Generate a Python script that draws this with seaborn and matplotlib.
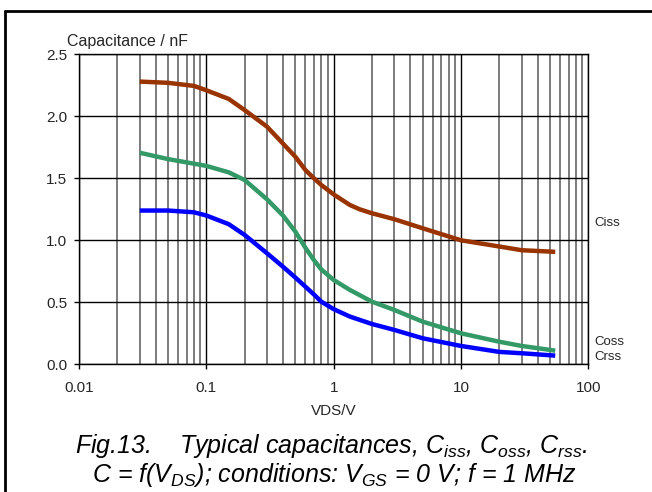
import numpy as np
import pandas as pd
import matplotlib
matplotlib.use("Agg")
import matplotlib.pyplot as plt
import matplotlib.ticker as mticker
import matplotlib.transforms as mtransforms
from matplotlib.lines import Line2D
import seaborn as sns

# ---- data ----
ciss_v = [0.03, 0.05, 0.08, 0.1, 0.15, 0.2, 0.3, 0.4, 0.5, 0.6, 0.7, 0.8, 1.0, 1.34, 1.6, 2, 3, 5, 10, 20, 30, 55]
ciss_c = [2.28, 2.27, 2.245, 2.21, 2.14, 2.05, 1.916, 1.78, 1.674, 1.567, 1.50, 1.446, 1.37, 1.285, 1.25, 1.218, 1.17, 1.097, 1.0, 0.95, 0.92, 0.907]

coss_v = [0.03, 0.05, 0.1, 0.15, 0.2, 0.3, 0.4, 0.5, 0.6, 0.7, 0.8, 1.0, 1.34, 2, 3, 5, 10, 20, 30, 55]
coss_c = [1.706, 1.655, 1.60, 1.548, 1.486, 1.33, 1.20, 1.07, 0.94, 0.84, 0.765, 0.68, 0.60, 0.505, 0.438, 0.344, 0.25, 0.182, 0.148, 0.11]

crss_v = [0.03, 0.05, 0.08, 0.1, 0.15, 0.2, 0.3, 0.4, 0.5, 0.6, 0.7, 0.8, 1.0, 1.34, 2, 3, 5, 10, 20, 30, 55]
crss_c = [1.24, 1.24, 1.226, 1.20, 1.13, 1.043, 0.895, 0.787, 0.70, 0.626, 0.563, 0.505, 0.445, 0.385, 0.325, 0.277, 0.21, 0.148, 0.10, 0.089, 0.07]

series_names = ["Ciss", "Coss", "Crss"]
series_colors = ["#993300", "#339966", "#0000FF"]
label_y = [1.14, 0.182, 0.056]

x_ticks = [0.01, 0.1, 1, 10, 100]
x_tick_labels = ["0.01", "0.1", "1", "10", "100"]
y_ticks = [0.0, 0.5, 1.0, 1.5, 2.0, 2.5]
y_tick_labels = ["0.0", "0.5", "1.0", "1.5", "2.0", "2.5"]

df = pd.concat([
    pd.DataFrame({"VDS": ciss_v, "C": ciss_c, "series": "Ciss"}),
    pd.DataFrame({"VDS": coss_v, "C": coss_c, "series": "Coss"}),
    pd.DataFrame({"VDS": crss_v, "C": crss_c, "series": "Crss"}),
], ignore_index=True)

sns.set_style("white")
plt.rcParams["font.family"] = ["Liberation Sans", "DejaVu Sans"]
plt.rcParams["mathtext.fontset"] = "custom"
plt.rcParams["mathtext.rm"] = "Liberation Sans:italic"
plt.rcParams["mathtext.it"] = "Liberation Sans:italic"
plt.rcParams["mathtext.default"] = "it"

fig = plt.figure(figsize=(6.52, 4.92), dpi=100)
ax = fig.add_axes([79 / 652, 1 - 364.3 / 492, (588.3 - 79) / 652, (364.3 - 54.3) / 492])

sns.lineplot(data=df, x="VDS", y="C", hue="series", hue_order=series_names,
             palette=series_colors, estimator=None, sort=False, linewidth=3.2,
             legend=False, ax=ax, zorder=5)
for ln in ax.get_lines():
    ln.set_solid_joinstyle("round")
    ln.set_solid_capstyle("butt")

ax.set_xscale("log")
ax.set_xlim(0.01, 100)
ax.set_ylim(0, 2.5)
ax.xaxis.set_major_locator(mticker.FixedLocator(x_ticks))
ax.xaxis.set_major_formatter(mticker.FixedFormatter(x_tick_labels))
ax.xaxis.set_minor_locator(mticker.LogLocator(base=10, subs=np.arange(2, 10), numticks=20))
ax.xaxis.set_minor_formatter(mticker.NullFormatter())
ax.set_yticks(y_ticks)
ax.set_yticklabels(y_tick_labels)

ax.grid(which="major", axis="both", color="black", linewidth=1.0, zorder=1)
ax.grid(which="minor", axis="x", color="#666666", linewidth=1.2, zorder=1)
ax.set_axisbelow(True)

for s in ax.spines.values():
    s.set_color("black")
    s.set_linewidth(1.0)
    s.set_visible(True)

ax.tick_params(axis="x", which="major", direction="out", length=3.6, width=1,
               color="black", pad=8.5, labelsize=11, bottom=True)
ax.tick_params(axis="x", which="minor", length=0)
ax.tick_params(axis="y", which="major", direction="out", length=3.6, width=1,
               color="black", pad=5, labelsize=11, left=True)
ax.set_xlabel("")
ax.set_ylabel("")

# y label on top
ax.text(-0.024, 1.027, "Capacitance / nF", transform=ax.transAxes,
        ha="left", va="baseline", fontsize=11.5)

# series labels at the right
trans = mtransforms.blended_transform_factory(ax.transAxes, ax.transData)
for name, yv in zip(series_names, label_y):
    ax.text(1.012, yv, name, transform=trans, ha="left", va="center",
            fontsize=9.5, clip_on=False)

# x label
fig.text(333.6 / 652, 1 - 415 / 492, "VDS/V", ha="center", va="baseline", fontsize=11)

# caption
fig.text(0.508, 1 - 453 / 492,
         "Fig.13.    Typical capacitances, C$_{iss}$, C$_{oss}$, C$_{rss}$.",
         ha="center", va="baseline", fontsize=18, style="italic", color="black")
fig.text(0.513, 1 - 482 / 492,
         "C = f(V$_{DS}$); conditions: V$_{GS}$ = 0 V; f = 1 MHz",
         ha="center", va="baseline", fontsize=18, style="italic", color="black")

# outer frame (left and top)
fx = 5.3 / 652
fy = 1 - 10.7 / 492
fig.add_artist(Line2D([fx, fx], [0, fy], transform=fig.transFigure, color="black", lw=2))
fig.add_artist(Line2D([fx, 1], [fy, fy], transform=fig.transFigure, color="black", lw=2))

fig.savefig("out.png", dpi=100)
